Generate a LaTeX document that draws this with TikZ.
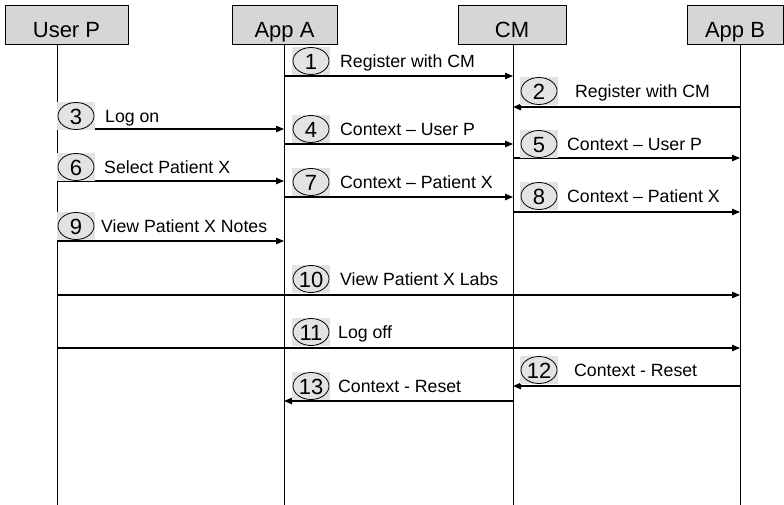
\documentclass[tikz,border=0pt]{standalone}
\usepackage{fontspec}
\setmainfont{Liberation Sans}
\usetikzlibrary{arrows.meta,shapes.geometric}
\begin{document}
\begin{tikzpicture}[x=1pt,y=-1pt,
  hdr/.style={draw,line width=1pt,fill=gray!32,minimum height=39pt,inner sep=0pt,
    text height=25pt,text depth=0pt,font=\fontsize{22}{26}\selectfont},
  life/.style={line width=0.8pt},
  msg/.style={line width=1.3pt,-{Triangle[length=8pt,width=6.5pt]}},
  num/.style={fill=gray!22,minimum width=38pt,minimum height=28pt,inner sep=0pt,
    text height=16.5pt,text depth=0pt,font=\fontsize{22}{25}\selectfont,
    path picture={\draw[line width=0.8pt] (path picture bounding box.center) ellipse [x radius=18pt, y radius=13.5pt];}},
  lbl/.style={anchor=base west,inner sep=0pt,font=\fontsize{17.7}{21}\selectfont}
]
\useasboundingbox (0,0) rectangle (784,505);
% headers
\node[hdr,minimum width=123pt] (U) at (66.5,25.5) {User P};
\node[hdr,minimum width=105pt] (A) at (284.5,25.5) {App A};
\node[hdr,minimum width=108pt] (C) at (512,25.5) {CM};
\node[hdr,minimum width=96pt] (B) at (735,25.5) {App B};
% lifelines
\coordinate (uT) at (57,45);  \coordinate (uB) at (57,505);
\coordinate (aT) at (284,45); \coordinate (aB) at (284,505);
\coordinate (cT) at (513,45); \coordinate (cB) at (513,505);
\coordinate (bT) at (740,45); \coordinate (bB) at (740,505);
\draw[life] (uT) -- (uB);
\draw[life] (aT) -- (aB);
\draw[life] (cT) -- (cB);
\draw[life] (bT) -- (bB);
% messages
\draw[msg] (aT |- 0,76)  -- (cT |- 0,76);
\draw[msg] (bT |- 0,107) -- (cT |- 0,107);
\draw[msg] (uT |- 0,129) -- (aT |- 0,129);
\draw[msg] (aT |- 0,144) -- (cT |- 0,144);
\draw[msg] (cT |- 0,158) -- (bT |- 0,158);
\draw[msg] (uT |- 0,181) -- (aT |- 0,181);
\draw[msg] (aT |- 0,197) -- (cT |- 0,197);
\draw[msg] (cT |- 0,212) -- (bT |- 0,212);
\draw[msg] (uT |- 0,241) -- (aT |- 0,241);
\draw[msg] (uT |- 0,295) -- (bT |- 0,295);
\draw[msg] (uT |- 0,348) -- (bT |- 0,348);
\draw[msg] (bT |- 0,386) -- (cT |- 0,386);
\draw[msg] (cT |- 0,401) -- (aT |- 0,401);
% numbers
\node[num] (n1)  at (311,61)  {1};
\node[num] (n2)  at (539,91)  {2};
\node[num] (n3)  at (76,116)  {3};
\node[num] (n4)  at (311,129) {4};
\node[num] (n5)  at (539,144) {5};
\node[num] (n6)  at (76,167)  {6};
\node[num] (n7)  at (311,182) {7};
\node[num] (n8)  at (539,196) {8};
\node[num] (n9)  at (76,226)  {9};
\node[num] (n10) at (311,279) {10};
\node[num] (n11) at (311,332) {11};
\node[num] (n12) at (539,370) {12};
\node[num] (n13) at (311,386) {13};
% labels
\node[lbl] (t1)  at (340,67.5)  {Register with CM};
\node[lbl] (t2)  at (575,97.5)  {Register with CM};
\node[lbl] (t3)  at (105,122.5) {Log on};
\node[lbl] (t4)  at (340,135.5) {Context – User P};
\node[lbl] (t5)  at (567,150.5) {Context – User P};
\node[lbl] (t6)  at (104,173.5) {Select Patient X};
\node[lbl] (t7)  at (340,188.5) {Context – Patient X};
\node[lbl] (t8)  at (567,202.5) {Context – Patient X};
\node[lbl] (t9)  at (101,232.5) {View Patient X Notes};
\node[lbl] (t10) at (340,285.5) {View Patient X Labs};
\node[lbl] (t11) at (338,338.5) {Log off};
\node[lbl] (t12) at (574,376.5) {Context - Reset};
\node[lbl] (t13) at (338,392.5) {Context - Reset};
\end{tikzpicture}
\end{document}
